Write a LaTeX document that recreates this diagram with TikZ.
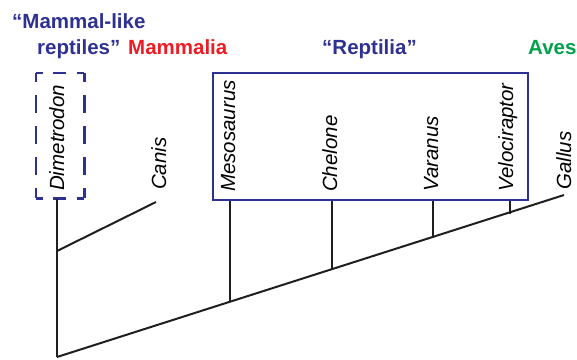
\documentclass[tikz,border=0pt]{standalone}
\usepackage{fontspec}
\setmainfont{Liberation Sans}
\definecolor{cladeblue}{HTML}{2E3192}
\definecolor{cladered}{HTML}{ED1C24}
\definecolor{cladegreen}{HTML}{00A14B}
\begin{document}
\begin{tikzpicture}[x=1pt,y=-1pt,
  branch/.style={line width=2pt, black!88},
  taxon/.style={rotate=90, anchor=base west, inner sep=0pt, font=\fontsize{20.5}{24}\selectfont\itshape},
  grouplabel/.style={anchor=base west, inner sep=0pt, font=\fontsize{20.5}{24}\selectfont\bfseries},
  cladebox/.style={draw=cladeblue, line width=2pt, inner sep=0pt},
  dashh/.style={cladeblue, line width=2.2pt, dash pattern=on 13pt off 10.5pt, dash phase=6.5pt},
  dashv/.style={cladeblue, line width=2.2pt, dash pattern=on 18pt off 13pt, dash phase=9pt}
]
\useasboundingbox (0,0) rectangle (577,359);

% group labels
\node[grouplabel, text=cladeblue] (mlr1) at (12,28) {“Mammal-like};
\node[grouplabel, text=cladeblue] (mlr2) at (37,54) {reptiles”};
\node[grouplabel, text=cladered] (mammalia) at (128,54) {Mammalia};
\node[grouplabel, text=cladeblue] (reptilia) at (322,54) {“Reptilia”};
\node[grouplabel, text=cladegreen] (aves) at (528,54) {Aves};

% boxes
\node[inner sep=0pt, minimum width=48pt, minimum height=125pt, anchor=north west] (dimbox) at (36,73) {};
\draw[dashh] (dimbox.north west) -- (dimbox.north east);
\draw[dashh] (dimbox.south west) -- (dimbox.south east);
\draw[dashv] (dimbox.north west) -- (dimbox.south west);
\draw[dashv] (dimbox.north east) -- (dimbox.south east);
\node[cladebox, minimum width=315pt, minimum height=127pt, anchor=north west] (reptbox) at (212,72) {};

% tree points
\coordinate (root) at (57,357);
\coordinate (canisJ) at (57,251);
\coordinate (dimtip) at (57,199);
\coordinate (canistip) at (156,202);
\coordinate (gallustip) at (564,195);
\coordinate (mesoJ) at (230,302.2);
\coordinate (cheloneJ) at (332,269.8);
\coordinate (varanusJ) at (433,237.8);
\coordinate (velociJ) at (509.5,213.5);

\draw[branch] (root) -- (dimtip);
\draw[branch] (canisJ) -- (canistip);
\draw[branch] (root) -- (gallustip);
\draw[branch] (mesoJ) -- (mesoJ |- reptbox.south);
\draw[branch] (cheloneJ) -- (cheloneJ |- reptbox.south);
\draw[branch] (varanusJ) -- (varanusJ |- reptbox.south);
\draw[branch] (velociJ) -- (velociJ |- reptbox.south);

% taxa
\node[taxon] (dimetrodon) at (64,191) {Dimetrodon};
\node[taxon] (canis) at (166,190) {Canis};
\node[taxon] (mesosaurus) at (235,192) {Mesosaurus};
\node[taxon] (chelone) at (337,192) {Chelone};
\node[taxon] (varanus) at (438,192) {Varanus};
\node[taxon] (velociraptor) at (513,192) {Velociraptor};
\node[taxon] (gallus) at (571,190) {Gallus};
\end{tikzpicture}
\end{document}
